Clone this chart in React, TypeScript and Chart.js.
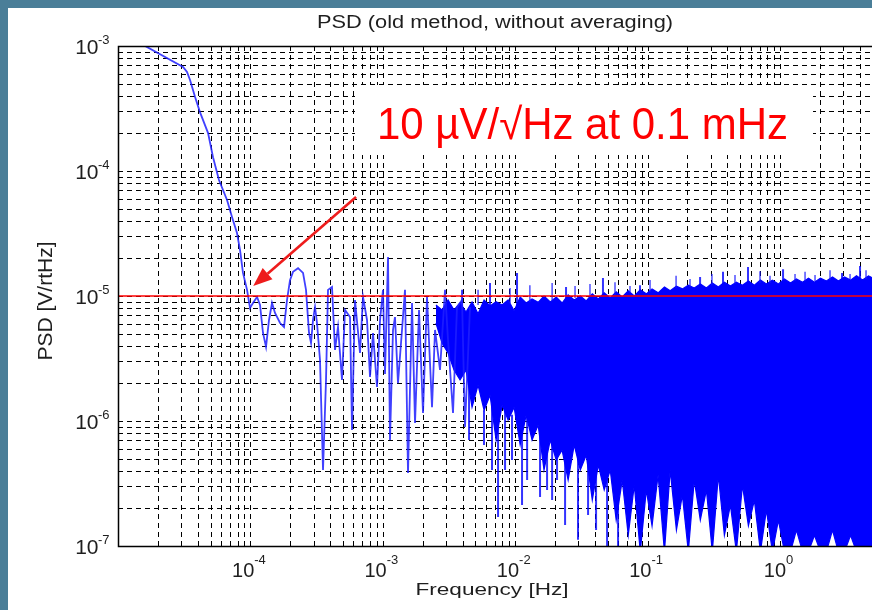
import React, { useEffect, useRef } from "react";
import { Chart, registerables } from "chart.js";

Chart.register(...registerables);

// ---------- axis ranges ----------
const X_MIN = 1e-5;
const X_MAX = 4.95;
const Y_MIN = 1e-7;
const Y_MAX = 1e-3;

// ---------- low / mid frequency PSD trace (Hz, V/rtHz) ----------
const lowFreq = [
  1.55e-5, 3.10e-5, 3.32e-5, 3.50e-5, 3.82e-5, 4.16e-5, 4.79e-5, 5.22e-5, 5.79e-5, 6.66e-5,
  7.26e-5, 7.92e-5, 8.35e-5, 8.79e-5, 9.43e-5, 9.93e-5, 1.046e-4, 1.122e-4, 1.182e-4, 1.245e-4,
  1.312e-4, 1.382e-4, 1.456e-4, 1.534e-4, 1.674e-4, 1.794e-4, 1.890e-4, 1.991e-4, 2.098e-4, 2.289e-4,
  2.497e-4, 2.630e-4, 2.771e-4, 2.870e-4, 2.971e-4, 3.076e-4, 3.184e-4, 3.355e-4, 3.535e-4, 3.724e-4,
  3.856e-4, 4.133e-4, 4.355e-4, 4.588e-4, 4.918e-4, 5.182e-4, 5.652e-4, 5.853e-4, 6.166e-4, 6.726e-4,
  7.087e-4, 7.598e-4, 8.004e-4, 8.433e-4, 9.04e-4, 9.53e-4, 1.003e-3, 1.039e-3, 1.095e-3, 1.133e-3,
  1.194e-3, 1.236e-3, 1.302e-3, 1.396e-3, 1.471e-3, 1.550e-3, 1.662e-3, 1.751e-3, 1.877e-3, 2.012e-3,
  2.157e-3, 2.353e-3, 2.480e-3, 2.704e-3, 2.950e-3, 3.108e-3, 3.390e-3, 3.634e-3, 3.965e-3, 4.177e-3,
  4.557e-3,
];
const lowPsd = [
  1.02e-3, 6.79e-4, 6.19e-4, 5.35e-4, 3.91e-4, 2.96e-4, 2.01e-4, 1.29e-4, 8.47e-5, 5.86e-5,
  4.29e-5, 3.19e-5, 2.33e-5, 1.53e-5, 1.12e-5, 8.02e-6, 8.79e-6, 9.82e-6, 8.47e-6, 5.06e-6,
  3.91e-6, 6.43e-6, 8.79e-6, 7.31e-6, 6.08e-6, 5.65e-6, 9.29e-6, 1.34e-5, 1.56e-5, 1.67e-5,
  1.53e-5, 1.12e-5, 5.06e-6, 4.21e-6, 6.43e-6, 8.17e-6, 6.08e-6, 3.08e-6, 4.06e-7, 2.13e-6,
  1.12e-5, 1.18e-5, 3.70e-6, 5.65e-6, 2.13e-6, 7.73e-6, 6.79e-6, 8.47e-7, 9.29e-6, 3.50e-6,
  9.82e-6, 6.43e-6, 2.25e-6, 5.06e-6, 1.87e-6, 6.43e-6, 1.12e-5, 2.38e-6, 2.05e-5, 7.05e-7,
  5.35e-6, 6.79e-6, 2.01e-6, 5.35e-6, 1.12e-5, 3.84e-7, 8.79e-6, 9.64e-7, 7.73e-6, 1.16e-6,
  9.82e-6, 1.29e-6, 5.35e-6, 2.56e-6, 1.12e-5, 4.45e-6, 1.16e-6, 8.17e-6, 9.29e-6, 8.95e-7,
  8.17e-6,
];

// ---------- dense high-frequency band: upper / lower envelope ----------
const bandFreq = [
  2.52e-3, 2.80e-3, 3.11e-3, 3.45e-3, 3.83e-3,
  4.25e-3, 4.72e-3, 5.24e-3, 5.82e-3, 6.46e-3, 7.17e-3, 7.96e-3, 8.84e-3, 9.81e-3, 0.0109,
  0.0121, 0.0134, 0.0149, 0.0165, 0.0184, 0.0204, 0.0226, 0.0251, 0.0279, 0.0310,
  0.0344, 0.0382, 0.0424, 0.0470, 0.0522, 0.0579, 0.0643, 0.0714, 0.0793, 0.0880,
  0.0977, 0.108, 0.120, 0.134, 0.148, 0.165, 0.183, 0.203, 0.225, 0.250,
  0.278, 0.308, 0.342, 0.380, 0.422, 0.468, 0.520, 0.577, 0.640, 0.711,
  0.789, 0.876, 0.972, 1.08, 1.20, 1.33, 1.48, 1.64, 1.82, 2.02,
  2.24, 2.49, 2.76, 3.07, 3.41, 3.78, 4.20, 4.66, 5.17,
];
const bandTop = [
  8.47e-6, 7.73e-6, 9.29e-6, 7.73e-6, 8.79e-6,
  7.45e-6, 8.95e-6, 7.20e-6, 9.29e-6, 8.32e-6, 9.00e-6, 8.47e-6, 9.29e-6, 7.60e-6, 9.82e-6,
  8.79e-6, 9.46e-6, 8.90e-6, 1.00e-5, 8.95e-6, 9.82e-6, 8.79e-6, 1.02e-5, 9.29e-6, 1.00e-5,
  9.12e-6, 1.04e-5, 9.46e-6, 1.06e-5, 9.64e-6, 1.08e-5, 9.82e-6, 1.10e-5, 1.00e-5, 1.12e-5,
  1.04e-5, 1.14e-5, 1.06e-5, 1.18e-5, 1.10e-5, 1.20e-5, 1.14e-5, 1.22e-5, 1.16e-5, 1.25e-5,
  1.16e-5, 1.27e-5, 1.18e-5, 1.29e-5, 1.20e-5, 1.29e-5, 1.22e-5, 1.32e-5, 1.22e-5, 1.34e-5,
  1.25e-5, 1.34e-5, 1.25e-5, 1.37e-5, 1.27e-5, 1.37e-5, 1.29e-5, 1.39e-5, 1.29e-5, 1.39e-5,
  1.32e-5, 1.42e-5, 1.32e-5, 1.42e-5, 1.34e-5, 1.45e-5, 1.34e-5, 1.45e-5, 1.37e-5,
];
const bandBottom = [
  6.08e-6, 4.21e-6, 3.50e-6, 2.56e-6, 2.13e-6,
  2.56e-6, 1.29e-6, 1.94e-6, 1.22e-6, 1.61e-6, 7.05e-7, 1.34e-6, 1.02e-6, 1.29e-6, 6.43e-7,
  1.12e-6, 7.05e-7, 9.29e-7, 4.06e-7, 7.05e-7, 4.88e-7, 5.86e-7, 3.37e-7, 6.43e-7, 4.06e-7,
  5.35e-7, 2.33e-7, 4.45e-7, 2.81e-7, 4.06e-7, 1.61e-7, 3.37e-7, 1.22e-7, 3.08e-7, 9e-8,
  2.81e-7, 1.45e-7, 3.70e-7, 9e-8, 4.06e-7, 1.34e-7, 2.56e-7, 9e-8, 3.37e-7, 1.61e-7,
  2.81e-7, 9e-8, 3.70e-7, 1.22e-7, 2.13e-7, 9e-8, 3.08e-7, 1.45e-7, 2.33e-7, 9e-8,
  1.94e-7, 9e-8, 1.61e-7, 9e-8, 9e-8, 1.34e-7, 9e-8, 9e-8, 1.22e-7, 9e-8,
  9e-8, 1.34e-7, 9e-8, 9e-8, 1.22e-7, 9e-8, 9e-8, 9e-8, 9e-8,
];

// ---------- isolated spikes (frequency, top, bottom) ----------
const spikeFreq = [
  3.97e-3, 4.48e-3, 6.45e-3, 7.42e-3, 8.38e-3, 1.032e-2, 1.23e-2, 1.54e-2, 1.74e-2, 2.07e-2,
  2.42e-2, 2.98e-2, 3.55e-2, 4.60e-2, 4.94e-2, 8.76e-2, 0.249, 0.371, 0.573, 1.054, 2.94, 4.02,
];
const spikeHigh = [
  1.12e-5, 2.13e-6, 1.27e-5, 1.47e-6, 1.47e-6, 1.53e-5, 1.22e-6, 1.02e-6, 8.47e-7, 7.05e-7,
  1.18e-5, 5.86e-7, 5.35e-7, 1.39e-5, 4.88e-7, 1.22e-5, 1.42e-5, 1.56e-5, 1.71e-5, 1.64e-5,
  1.53e-5, 1.74e-5,
];
const spikeLow = [
  6.43e-6, 7.05e-7, 8.47e-6, 1.71e-7, 4.06e-7, 8.47e-6, 3.37e-7, 2.47e-7, 2.81e-7, 3.37e-7,
  9.29e-6, 1.12e-7, 1.77e-7, 9.29e-6, 9e-8, 9.29e-6, 1.12e-5, 1.12e-5, 1.22e-5, 1.22e-5,
  1.22e-5, 1.22e-5,
];
// small spikes fringing the top of the dense band
const fringeFreq = [
  5.24e-3, 9.14e-3, 1.29e-2, 1.90e-2, 2.83e-2, 3.67e-2, 5.67e-2, 7.36e-2, 0.1043, 0.164,
  0.209, 0.306, 0.457, 0.706, 0.840, 1.298, 1.545, 1.838, 2.386, 3.379, 4.462,
];
const fringeHigh = [
  1.12e-5, 1.16e-5, 1.22e-5, 1.27e-5, 1.20e-5, 1.25e-5, 1.29e-5, 1.20e-5, 1.34e-5, 1.45e-5,
  1.37e-5, 1.50e-5, 1.47e-5, 1.58e-5, 1.45e-5, 1.50e-5, 1.56e-5, 1.47e-5, 1.61e-5, 1.50e-5,
  1.61e-5,
];
const fringeLow = [
  8.47e-6, 8.79e-6, 8.95e-6, 9.29e-6, 9.64e-6, 9.82e-6, 1.02e-5, 1.06e-5, 1.08e-5, 1.16e-5,
  1.18e-5, 1.22e-5, 1.25e-5, 1.27e-5, 1.27e-5, 1.32e-5, 1.32e-5, 1.32e-5, 1.34e-5, 1.37e-5,
  1.37e-5,
];
// spikes dropping below the dense band
const dropFreq = [5.81e-3, 6.68e-3, 9.46e-3, 1.126e-2, 1.90e-2, 2.38e-2, 4.08e-2, 5.98e-2];
const dropHigh = [1.22e-6, 1.34e-6, 1.12e-6, 1.02e-6, 7.05e-7, 5.86e-7, 4.88e-7, 4.06e-7];
const dropLow = [6.43e-7, 4.06e-7, 4.88e-7, 2.13e-7, 2.33e-7, 1.47e-7, 1.34e-7, 9e-8];

// ---------- reference level, ticks, annotation ----------
const refLevel = 1e-5;
const xTickExps = [-4, -3, -2, -1, 0];
const yTickExps = [-7, -6, -5, -4, -3];
const gridMantissas = [1, 2, 3, 4, 5, 6, 7, 8, 9];
const xDecades = [-5, -4, -3, -2, -1, 0];
const yDecades = [-7, -6, -5, -4, -3];
const arrowTip = { f: 1.05e-4, psd: 1.2e-5 };
const arrowTail = { f: 6.28e-4, psd: 6.19e-5 };
const titleText = "PSD (old method, without averaging)";
const xLabelText = "Frequency [Hz]";
const yLabelText = "PSD [V/rtHz]";
const noteText = "10 \u00B5V/\u221AHz at 0.1 mHz";

const FONT = "'Liberation Sans', Arial, Helvetica, sans-serif";

function gridValues(decades: number[], min: number, max: number) {
  const out: number[] = [];
  decades.forEach((d) =>
    gridMantissas.forEach((m) => {
      const v = m * Math.pow(10, d);
      if (v >= min * 0.999 && v <= max * 1.001) out.push(v);
    })
  );
  return out;
}

function segments(freq: number[], hi: number[], lo: number[]) {
  const out: { x: number; y: number | null }[] = [];
  freq.forEach((f, i) => {
    out.push({ x: f, y: hi[i] });
    out.push({ x: f, y: lo[i] });
    out.push({ x: f, y: null });
  });
  return out;
}

function drawFit(
  ctx: CanvasRenderingContext2D,
  text: string,
  x: number,
  y: number,
  size: number,
  width: number,
  color: string
) {
  ctx.font = `${size}px ${FONT}`;
  const w = ctx.measureText(text).width;
  ctx.save();
  ctx.translate(x, y);
  ctx.scale(width / w, 1);
  ctx.textAlign = "center";
  ctx.textBaseline = "alphabetic";
  ctx.fillStyle = color;
  ctx.fillText(text, 0, 0);
  ctx.restore();
}

const decor = {
  id: "decor",
  beforeDraw(chart: any) {
    const ctx: CanvasRenderingContext2D = chart.ctx;
    ctx.save();
    ctx.fillStyle = "#4a7e98";
    ctx.fillRect(0, 0, chart.width, chart.height);
    ctx.fillStyle = "#ffffff";
    ctx.fillRect(8, 8, chart.width - 8, chart.height - 8);
    ctx.restore();
  },
  beforeDatasetsDraw(chart: any) {
    const ctx: CanvasRenderingContext2D = chart.ctx;
    const a = chart.chartArea;
    const xs = chart.scales.x;
    const ys = chart.scales.y;
    ctx.save();
    ctx.strokeStyle = "#000000";
    ctx.lineWidth = 1;
    ctx.setLineDash([5, 4]);
    gridValues(xDecades, X_MIN, X_MAX).forEach((v) => {
      const px = Math.round(xs.getPixelForValue(v)) + 0.5;
      ctx.beginPath();
      ctx.moveTo(px, a.top);
      ctx.lineTo(px, a.bottom);
      ctx.stroke();
    });
    gridValues(yDecades, Y_MIN, Y_MAX).forEach((v) => {
      const py = Math.round(ys.getPixelForValue(v)) + 0.5;
      ctx.beginPath();
      ctx.moveTo(a.left, py);
      ctx.lineTo(a.right, py);
      ctx.stroke();
    });
    ctx.restore();
  },
  afterDatasetsDraw(chart: any) {
    const ctx: CanvasRenderingContext2D = chart.ctx;
    const a = chart.chartArea;
    const xs = chart.scales.x;
    const ys = chart.scales.y;

    // axes frame
    ctx.save();
    ctx.strokeStyle = "#000000";
    ctx.lineWidth = 1.5;
    ctx.beginPath();
    ctx.moveTo(a.right + 2, a.top + 0.5);
    ctx.lineTo(a.left + 0.5, a.top + 0.5);
    ctx.lineTo(a.left + 0.5, a.bottom + 0.5);
    ctx.lineTo(a.right + 2, a.bottom + 0.5);
    ctx.stroke();
    ctx.restore();

    // annotation box + text
    ctx.save();
    ctx.fillStyle = "#ffffff";
    ctx.fillRect(355, 85, 458, 70);
    ctx.restore();
    drawFit(ctx, noteText, 582.5, 139, 44, 411, "#ff0000");

    // arrow
    const tx = xs.getPixelForValue(arrowTip.f);
    const ty = ys.getPixelForValue(arrowTip.psd);
    const sx = xs.getPixelForValue(arrowTail.f);
    const sy = ys.getPixelForValue(arrowTail.psd);
    const ang = Math.atan2(ty - sy, tx - sx);
    const headLen = 19;
    const headHalf = 7.5;
    const bx = tx - headLen * Math.cos(ang);
    const by = ty - headLen * Math.sin(ang);
    ctx.save();
    ctx.strokeStyle = "#ee1c1c";
    ctx.fillStyle = "#ee1c1c";
    ctx.lineWidth = 2.6;
    ctx.beginPath();
    ctx.moveTo(sx, sy);
    ctx.lineTo(bx, by);
    ctx.stroke();
    ctx.beginPath();
    ctx.moveTo(tx, ty);
    ctx.lineTo(bx + headHalf * Math.sin(ang), by - headHalf * Math.cos(ang));
    ctx.lineTo(bx - headHalf * Math.sin(ang), by + headHalf * Math.cos(ang));
    ctx.closePath();
    ctx.fill();
    ctx.restore();

    // tick labels
    ctx.save();
    ctx.fillStyle = "#1e1e1e";
    ctx.textBaseline = "alphabetic";
    xTickExps.forEach((e) => {
      const px = xs.getPixelForValue(Math.pow(10, e));
      ctx.font = `20px ${FONT}`;
      const w10 = ctx.measureText("10").width;
      ctx.font = `13px ${FONT}`;
      const sup = String(e);
      const ws = ctx.measureText(sup).width;
      const start = px - (w10 + ws) / 2 - 1.5;
      ctx.textAlign = "left";
      ctx.font = `20px ${FONT}`;
      ctx.fillText("10", start, a.bottom + 31);
      ctx.font = `13px ${FONT}`;
      ctx.fillText(sup, start + w10, a.bottom + 18);
    });
    yTickExps.forEach((e) => {
      const py = ys.getPixelForValue(Math.pow(10, e));
      ctx.textAlign = "right";
      ctx.font = `21px ${FONT}`;
      ctx.fillText("10", 98.5, py + 7.5);
      ctx.textAlign = "left";
      ctx.font = `13px ${FONT}`;
      ctx.fillText(String(e), 98, py - 2);
    });
    ctx.restore();

    // title and axis labels
    drawFit(ctx, titleText, 495, 28, 18, 356, "#1e1e1e");
    drawFit(ctx, xLabelText, 492, 595, 17, 153, "#1e1e1e");
    ctx.save();
    ctx.translate(52, 301);
    ctx.rotate(-Math.PI / 2);
    ctx.font = `21px ${FONT}`;
    ctx.textAlign = "center";
    ctx.fillStyle = "#1e1e1e";
    ctx.fillText(yLabelText, 0, 0);
    ctx.restore();
  },
};

export default function App() {
  const ref = useRef<HTMLCanvasElement>(null);

  useEffect(() => {
    const canvas = ref.current;
    if (!canvas) return;

    const lowData = lowFreq.map((f, i) => ({ x: f, y: lowPsd[i] }));
    const topData = bandFreq.map((f, i) => ({ x: f, y: bandTop[i] }));
    const bottomData = bandFreq.map((f, i) => ({ x: f, y: bandBottom[i] }));
    const spikeData = segments(spikeFreq, spikeHigh, spikeLow);
    const fringeData = segments(fringeFreq, fringeHigh, fringeLow);
    const dropData = segments(dropFreq, dropHigh, dropLow);

    const chart = new Chart(canvas, {
      type: "line",
      data: {
        datasets: [
          {
            label: "reference",
            data: [
              { x: X_MIN, y: refLevel },
              { x: X_MAX, y: refLevel },
            ],
            borderColor: "#ff0000",
            borderWidth: 1.6,
            pointRadius: 0,
            fill: false,
            order: 0,
          },
          {
            label: "psd",
            data: lowData,
            borderColor: "rgba(30,30,255,0.85)",
            borderWidth: 1.8,
            pointRadius: 0,
            fill: false,
            order: 1,
          },
          {
            label: "spikes",
            data: spikeData as any,
            borderColor: "rgba(0,0,255,0.8)",
            borderWidth: 2,
            pointRadius: 0,
            fill: false,
            spanGaps: false,
            order: 2,
          },
          {
            label: "fringe",
            data: fringeData as any,
            borderColor: "rgba(20,20,255,0.75)",
            borderWidth: 1.5,
            pointRadius: 0,
            fill: false,
            spanGaps: false,
            order: 2,
          },
          {
            label: "drops",
            data: dropData as any,
            borderColor: "rgba(0,0,255,0.8)",
            borderWidth: 2,
            pointRadius: 0,
            fill: false,
            spanGaps: false,
            order: 2,
          },
          {
            label: "bandTop",
            data: topData,
            borderColor: "#0000ff",
            borderWidth: 1.2,
            pointRadius: 0,
            fill: false,
            order: 3,
          },
          {
            label: "bandBottom",
            data: bottomData,
            borderColor: "#0000ff",
            backgroundColor: "#0000ff",
            borderWidth: 1.2,
            pointRadius: 0,
            fill: "-1",
            order: 4,
          },
        ],
      },
      options: {
        responsive: false,
        animation: false,
        devicePixelRatio: 1,
        events: [],
        layout: { padding: { left: 118, top: 46, right: 0, bottom: 64 } },
        elements: { line: { tension: 0 }, point: { radius: 0 } },
        scales: {
          x: { type: "logarithmic", min: X_MIN, max: X_MAX, display: false },
          y: { type: "logarithmic", min: Y_MIN, max: Y_MAX, display: false },
        },
        plugins: {
          legend: { display: false },
          tooltip: { enabled: false },
          title: { display: false },
        },
      },
      plugins: [decor],
    });

    return () => chart.destroy();
  }, []);

  return (
    <canvas
      ref={ref}
      width={872}
      height={610}
      style={{ position: "fixed", left: 0, top: 0, display: "block", width: 872, height: 610 }}
    />
  );
}
